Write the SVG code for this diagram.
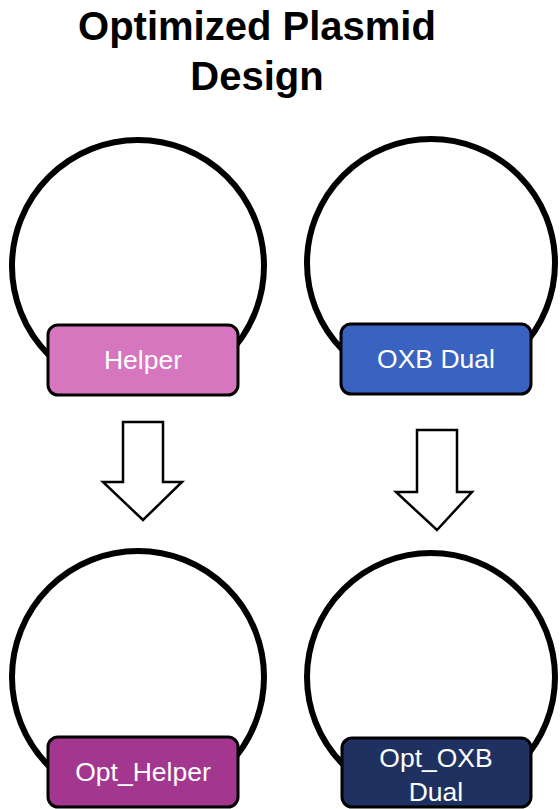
<svg xmlns="http://www.w3.org/2000/svg" width="560" height="809" viewBox="0 0 560 809">
<style>
.ring{fill:none;stroke:#000;stroke-width:6}
.box{stroke:#000;stroke-width:3}
.lbl{font-family:"Liberation Sans",Arial,sans-serif;font-size:26.5px;fill:#fff;text-anchor:middle}
.title{font-family:"Liberation Sans",Arial,sans-serif;font-size:40px;font-weight:bold;fill:#000;text-anchor:middle}
.arrow{fill:#fff;stroke:#000;stroke-width:2.5;stroke-linejoin:miter}
</style>
<rect width="560" height="809" fill="#fff"/>
<g id="title">
<text class="title" x="257" y="40">Optimized Plasmid</text>
<text class="title" x="257" y="90">Design</text>
</g>
<g id="helper">
<circle class="ring" cx="138" cy="266" r="126"/>
<rect class="box" x="48" y="325" width="190" height="70" rx="10" fill="#D576BF"/>
<text class="lbl" x="143" y="369">Helper</text>
</g>
<g id="oxb-dual">
<circle class="ring" cx="431" cy="263" r="124"/>
<rect class="box" x="341" y="324" width="190" height="70" rx="10" fill="#3A62C0"/>
<text class="lbl" x="436" y="368">OXB Dual</text>
</g>
<g id="opt-helper">
<circle class="ring" cx="138" cy="677" r="126"/>
<rect class="box" x="48" y="737" width="190" height="70" rx="10" fill="#A3378F"/>
<text class="lbl" x="143" y="781">Opt_Helper</text>
</g>
<g id="opt-oxb-dual">
<circle class="ring" cx="431" cy="677" r="124"/>
<rect class="box" x="342" y="738" width="189" height="69" rx="10" fill="#1E3160"/>
<text class="lbl" x="436" y="767">Opt_OXB</text>
<text class="lbl" x="436" y="801">Dual</text>
</g>
<g id="connectors">
<polygon class="arrow" points="123,422 163,422 163,482 182,482 143,520 103,482 123,482"/>
<polygon class="arrow" points="417,430 457,430 457,492 472,492 437,530 396,492 417,492"/>
</g>
</svg>
